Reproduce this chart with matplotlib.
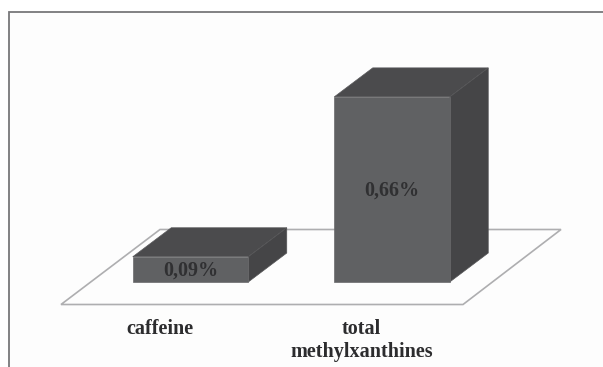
import matplotlib
matplotlib.use("Agg")
import matplotlib.pyplot as plt
from matplotlib.patches import Polygon

categories = ["caffeine", "total\nmethylxanthines"]
values = [0.09, 0.66]
value_labels = ["0,09%", "0,66%"]

W, H = 603, 367
fig = plt.figure(figsize=(W / 100, H / 100), dpi=100, facecolor="#ffffff")
ax = fig.add_axes([0, 0, 1, 1])
sx, sy = 201.5, 280.5          # pixels per category / per unit of value
x0_px, y0_px = 190.5, 282.0    # pixel position of category 0, value 0
ax.set_xlim(-x0_px / sx, (W - x0_px) / sx)
ax.set_ylim(-(H - y0_px) / sy, y0_px / sy)
ax.axis("off")

px = lambda x: (x - x0_px) / sx
py = lambda y: (y0_px - y) / sy

# chart area and frame (right and bottom edges run off the picture)
ax.add_patch(Polygon([(px(9), py(12)), (px(620), py(12)), (px(620), py(380)), (px(9), py(380))],
                     closed=True, fc="#fdfdfd", ec="#77777a", lw=1.3, zorder=1))

# floor
ax.add_patch(Polygon([(px(61), py(304.5)), (px(463), py(304.5)), (px(561), py(229.5)), (px(160), py(229.5))],
                     closed=True, fc="#fdfdfd", ec="#aeaeb0", lw=1.2, zorder=2))

bar_w = 115.5 / sx
dx, dy = 38.5 / sx, 29 / sy
for i, (v, lab) in enumerate(zip(values, value_labels)):
    l, r = i - bar_w / 2, i + bar_w / 2
    ax.add_patch(Polygon([(l, v), (r, v), (r + dx, v + dy), (l + dx, v + dy)],
                         closed=True, fc="#4b4b4d", ec="#5a5a5c", lw=0.5, zorder=3))
    ax.add_patch(Polygon([(r, 0), (r + dx, dy), (r + dx, v + dy), (r, v)],
                         closed=True, fc="#454547", ec="#555557", lw=0.5, zorder=3))
    ax.bar(i, v, width=bar_w, color="#606163", edgecolor="#6a6a6c", linewidth=0.5, zorder=4)
    ax.text(i, v / 2 - 1.5 / sy, lab, ha="center", va="center", family="Liberation Serif",
            weight="bold", fontsize=14.5, color="#303032", zorder=5)

for i, c in enumerate(categories):
    ax.text(i - 30.5 / sx, py(319), c, ha="center", va="top", family="Liberation Serif",
            weight="bold", fontsize=14.5, color="#2c2c2e", linespacing=1.2, zorder=5)

fig.savefig("out.png", dpi=100, facecolor=fig.get_facecolor())
